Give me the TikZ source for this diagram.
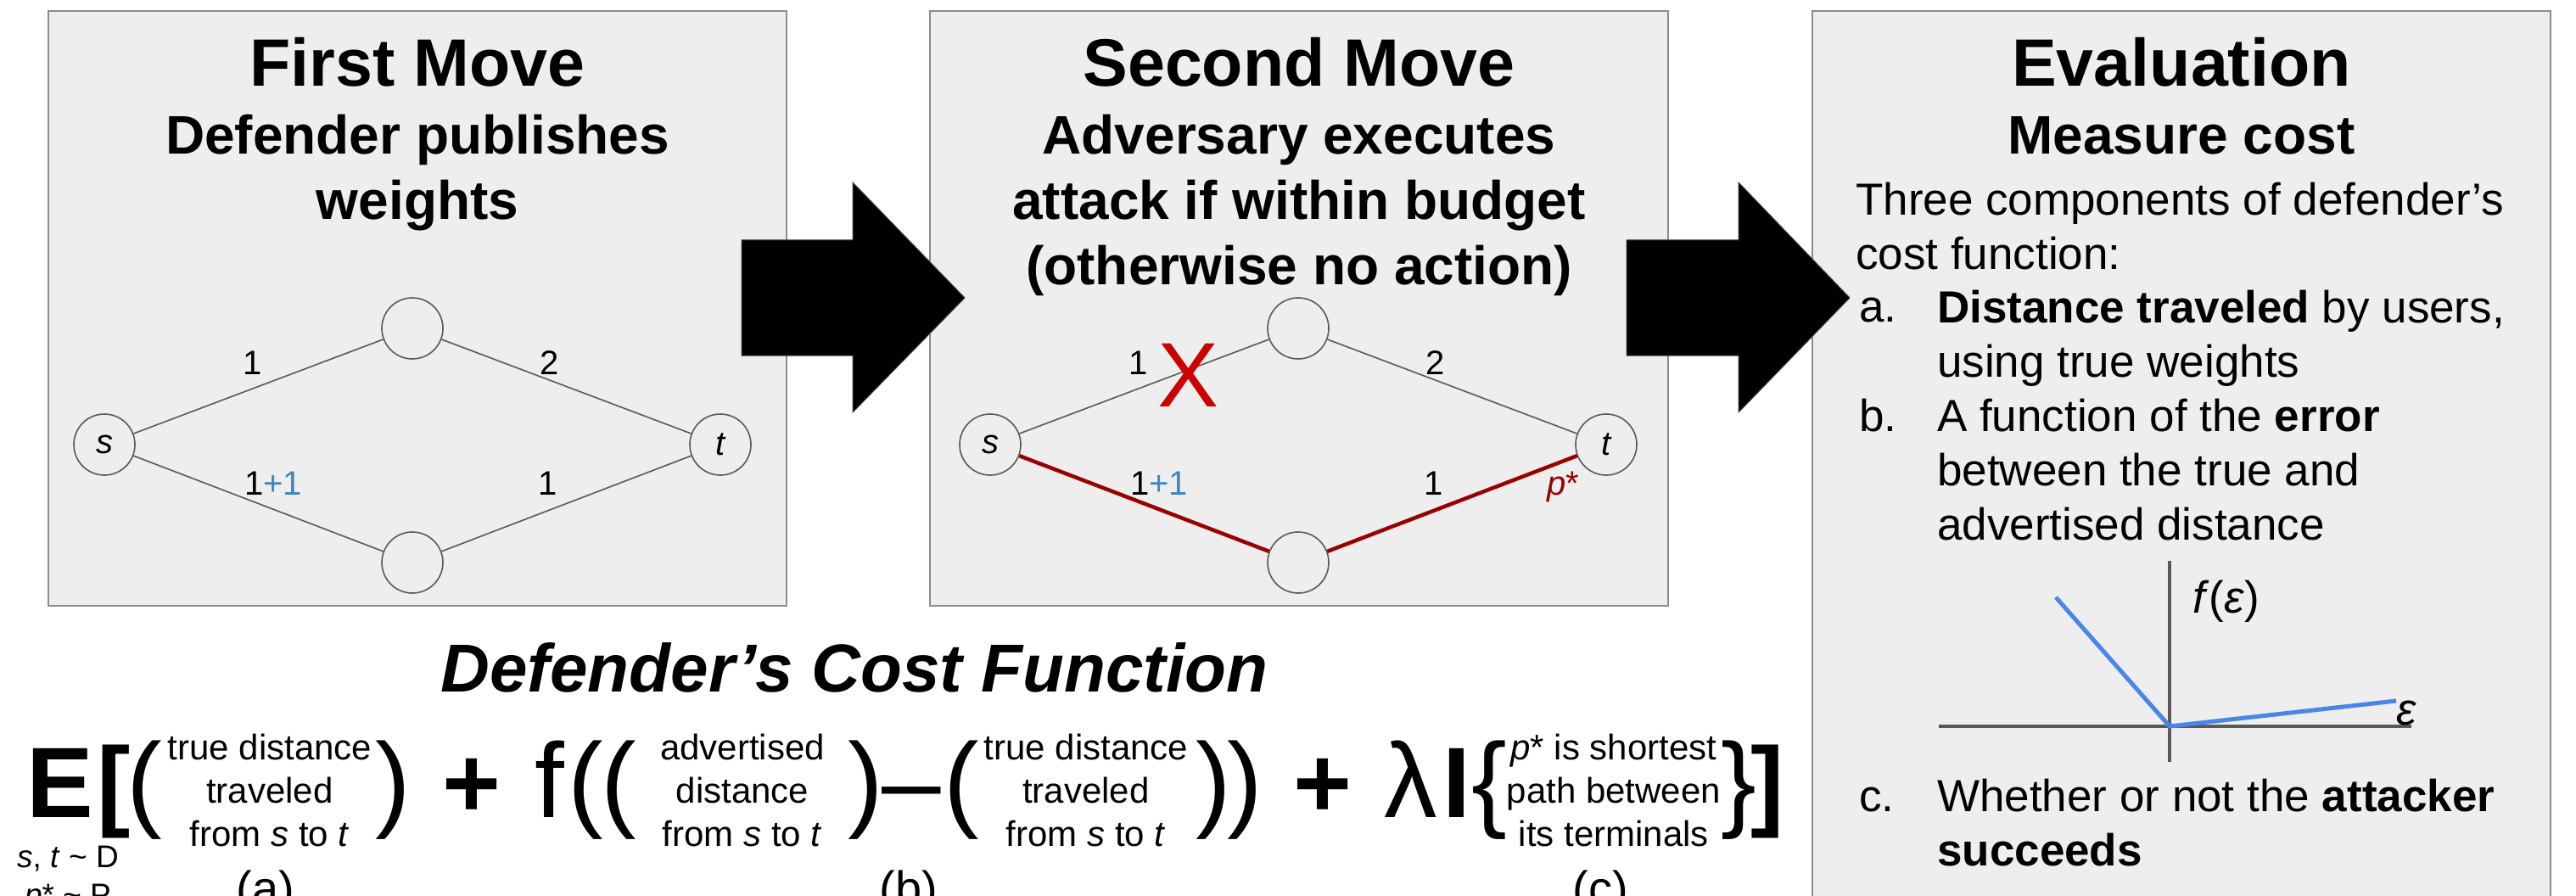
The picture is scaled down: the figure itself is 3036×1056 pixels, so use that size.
\documentclass[tikz,border=0pt]{standalone}
\usepackage{fontspec}
\setmainfont{Liberation Sans}
\definecolor{boxfill}{HTML}{EEEEEE}
\definecolor{boxline}{HTML}{8C8C8C}
\definecolor{edgegray}{HTML}{595959}
\definecolor{xred}{HTML}{CC0000}
\definecolor{pathred}{HTML}{990000}
\definecolor{plusblue}{HTML}{3D85C6}
\definecolor{chartblue}{HTML}{4A86E8}
\newcommand{\myfs}[2]{\fontsize{#1}{#2}\selectfont}
\begin{document}
\begin{tikzpicture}[x=1pt,y=-1pt,
  panel/.style={draw=boxline,fill=boxfill,line width=2pt},
  gnode/.style={circle,draw=edgegray,fill=boxfill,line width=1.6pt,minimum size=72pt,inner sep=0pt,font=\myfs{40}{48}\itshape},
  gedge/.style={draw=edgegray,line width=1.6pt},
  pedge/.style={draw=pathred,line width=4.5pt},
  wlabel/.style={inner sep=0pt,anchor=base,font=\myfs{40}{48}},
  ttl/.style={inner sep=0pt,anchor=base,font=\myfs{79}{95}\bfseries},
  subttl/.style={inner sep=0pt,anchor=base,align=center,font=\myfs{64}{77}\bfseries},
  bodytext/.style={inner sep=0pt,anchor=base west,align=left,font=\myfs{53}{64}},
  bigarrow/.style={fill=black,draw=black!75,line width=1pt},
  fglyph/.style={inner sep=0pt,anchor=base,font=\myfs{125}{130}},
  fbold/.style={inner sep=0pt,anchor=base,font=\myfs{118}{130}\bfseries},
  ftext/.style={inner sep=0pt,anchor=base,align=center,font=\myfs{42}{51}},
  axis/.style={draw=edgegray,line width=4pt},
  curve/.style={draw=chartblue,line width=5pt}
]
\useasboundingbox (0,0) rectangle (3036,1056);
\clip (0,0) rectangle (3036,1056);

% ---------- panels ----------
\draw[panel] (57,13) rectangle (927,714);
\draw[panel] (1096,13) rectangle (1966,714);
\draw[panel] (2136,13) rectangle (3006,1090);

% ---------- panel 1 ----------
% (multi-line nodes: base anchor = baseline of last line)
\node[ttl] (t1) at (492,102) {First Move};
\node[subttl] (st1) at (492,259) {Defender publishes\\weights};

\node[gnode] (s1) at (123,524) {s};
\node[gnode] (u1) at (486,387) {};
\node[gnode] (v1) at (486,663) {};
\node[gnode] (t1n) at (849,524) {t};
\draw[gedge] (s1) -- (u1);
\draw[gedge] (u1) -- (t1n);
\draw[gedge] (s1) -- (v1);
\draw[gedge] (v1) -- (t1n);
\node[wlabel] (w1a) at (298,441) {1};
\node[wlabel] (w1b) at (648,441) {2};
\node[wlabel] (w1c) at (322,583) {1\textcolor{plusblue}{+1}};
\node[wlabel] (w1d) at (646,583) {1};

% ---------- panel 2 ----------
\node[ttl] (t2) at (1531,102) {Second Move};
\node[subttl] (st2) at (1531,336) {Adversary executes\\attack if within budget\\(otherwise no action)};

\node[gnode] (s2) at (1167,524) {s};
\node[gnode] (u2) at (1530,387) {};
\node[gnode] (v2) at (1530,663) {};
\node[gnode] (t2n) at (1893,524) {t};
\draw[gedge] (s2) -- (u2);
\draw[gedge] (u2) -- (t2n);
\draw[pedge] (s2) -- (v2);
\draw[pedge] (v2) -- (t2n);
\node[wlabel] (w2a) at (1342,441) {1};
\node[wlabel] (w2b) at (1692,441) {2};
\node[wlabel] (w2c) at (1366,583) {1\textcolor{plusblue}{+1}};
\node[wlabel] (w2d) at (1690,583) {1};
\node[inner sep=0pt,anchor=base,font=\myfs{108}{120},text=xred] (cross) at (1401,479) {X};
\node[inner sep=0pt,font=\myfs{40}{48},text=pathred] (pstar) at (1842,574) {\textit{p}*};

% ---------- arrows ----------
\filldraw[bigarrow] (874,283) -- (1005,283) -- (1005,215) -- (1137,351) -- (1005,486) -- (1005,419) -- (874,419) -- cycle;
\filldraw[bigarrow] (1917,283) -- (2049,283) -- (2049,215) -- (2180,351) -- (2049,486) -- (2049,419) -- (1917,419) -- cycle;

% ---------- panel 3 ----------
\node[ttl] (t3) at (2571,102) {Evaluation};
\node[subttl] (st3) at (2571,182) {Measure cost};
\node[bodytext] (intro) at (2187,318) {Three components of defender’s\\cost function:};
\node[bodytext] (la) at (2191,380) {a.};
\node[bodytext] (ia) at (2283,444) {\textbf{Distance traveled} by users,\\using true weights};
\node[bodytext] (lb) at (2191,508) {b.};
\node[bodytext] (ib) at (2283,636) {A function of the \textbf{error}\\between the true and\\advertised distance};
\node[bodytext] (lc) at (2191,956) {c.};
\node[bodytext] (ic) at (2283,1020) {Whether or not the \textbf{attacker}\\\textbf{succeeds}};

\coordinate (vtop) at (2557,661);
\coordinate (vbot) at (2557,898);
\coordinate (hl) at (2285,856);
\coordinate (hr) at (2842,856);
\coordinate (o) at (2557,856);
\coordinate (cl) at (2423,704);
\coordinate (cr) at (2824,826);
\draw[axis] (vtop) -- (vbot);
\draw[axis] (hl) -- (hr);
\draw[curve,line join=miter] (cl) -- (o) -- (cr);
\node[inner sep=0pt,anchor=base west,font=\myfs{53}{64}] (fe) at (2584,722) {\textit{f}(\textit{ε})};
\node[inner sep=0pt,anchor=base,font=\myfs{53}{64}\itshape] (eps) at (2836,854) {ε};

% ---------- cost function ----------
\node[inner sep=0pt,anchor=base,font=\myfs{80}{96}\bfseries\itshape] (cf) at (1007,815) {Defender’s Cost Function};

\node[fbold] (E) at (71,963) {E};
\node[fbold] (lbrk) at (134,963) {[};
\node[fglyph] (pa1) at (170,963) {(};
\node[ftext] (ta) at (318,997) {true distance\\traveled\\from \textit{s} to \textit{t}};
\node[fglyph] (pa2) at (463,963) {)};
\node[fbold] (plus1) at (556,963) {+};
\node[fglyph] (ff) at (648,963) {f};
\node[fglyph] (pb1) at (690,963) {(};
\node[fglyph] (pb2) at (729,963) {(};
\node[ftext] (tb1) at (875,997) {advertised\\distance\\from \textit{s} to \textit{t}};
\node[fglyph] (pb3) at (1020,963) {)};
\node[fglyph] (minus) at (1074,963) {–};
\node[fglyph] (pb4) at (1133,963) {(};
\node[ftext] (tb2) at (1280,997) {true distance\\traveled\\from \textit{s} to \textit{t}};
\node[fglyph] (pb5) at (1430,963) {)};
\node[fglyph] (pb6) at (1467,963) {)};
\node[fbold] (plus2) at (1559,963) {+};
\node[fglyph] (lam) at (1663,963) {λ};
\node[fbold] (ind) at (1717,963) {I};
\node[fglyph] (lbr) at (1755,963) {\{};
\node[ftext] (tc) at (1902,997) {\textit{p}* is shortest\\path between\\its terminals};
\node[fglyph] (rbr) at (2049,963) {\}};
\node[fbold] (rbrk) at (2083,963) {]};

\node[inner sep=0pt,anchor=base,align=center,font=\myfs{37}{45}] (dist) at (80,1067) {\textit{s}, \textit{t} \textasciitilde{} D\\\textit{p}* \textasciitilde{} P};
\node[inner sep=0pt,anchor=base,font=\myfs{56}{64}] (la2) at (313,1066) {(a)};
\node[inner sep=0pt,anchor=base,font=\myfs{56}{64}] (lb2) at (1071,1066) {(b)};
\node[inner sep=0pt,anchor=base,font=\myfs{56}{64}] (lc2) at (1886,1066) {(c)};
\end{tikzpicture}
\end{document}
